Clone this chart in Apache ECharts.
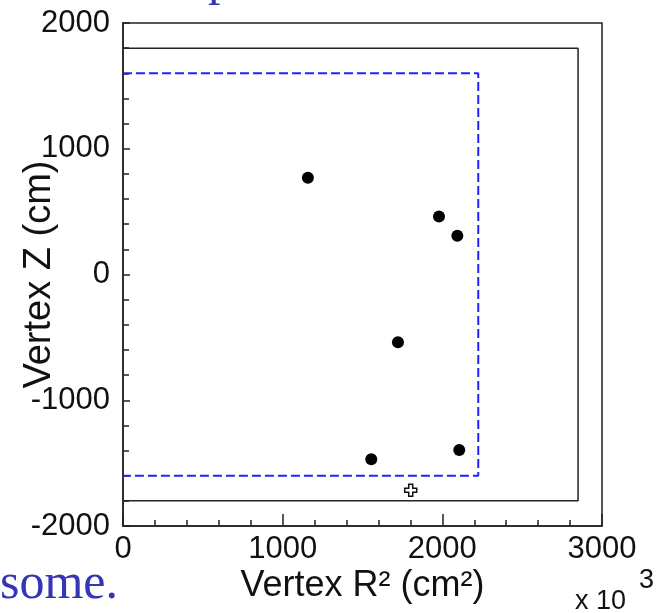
<!DOCTYPE html>
<html>
<head>
<meta charset="utf-8">
<script src="https://cdn.jsdelivr.net/npm/echarts@6/dist/echarts.min.js"></script>
<style>
html,body{margin:0;padding:0;background:#fff;}
#c{width:663px;height:613px;}
</style>
</head>
<body>
<div id="c"></div>
<script>
// Data (x in units of 10^3 cm^2, y in cm)
var xTicks = [0, 1000, 2000, 3000];
var yTicks = [-2000, -1000, 0, 1000, 2000];
var detectorR2 = [0, 2850, 2850, 0];
var detectorZ = [1800, 1800, -1800, -1800];
var fiducialR2 = [0, 2225, 2225, 0];
var fiducialZ = [1600, 1600, -1600, -1600];
var eventR2 = [1158, 1979, 2094, 1722, 1555, 2106];
var eventZ = [769, 461, 308, -538, -1469, -1395];
var otherR2 = [1802];
var otherZ = [-1716];

function zip(a, b) { return a.map(function (v, i) { return [v, b[i]]; }); }

var chart = echarts.init(document.getElementById('c'));
var font = 'Liberation Sans';
chart.setOption({
  animation: false,
  grid: { left: 123, top: 23, width: 479, height: 503, outerBoundsMode: 'none', containLabel: false,
          show: true, borderColor: '#222', borderWidth: 1.5, backgroundColor: 'transparent' },
  xAxis: {
    type: 'value', min: xTicks[0], max: xTicks[xTicks.length - 1], interval: 1000,
    axisLine: { show: true, onZero: false, lineStyle: { color: '#222', width: 1.5 } },
    axisTick: { show: true, inside: true, length: 12, lineStyle: { color: '#222', width: 1.5 } },
    minorTick: { show: true, splitNumber: 5, length: 6, lineStyle: { color: '#222', width: 1.5 } },
    splitLine: { show: false },
    axisLabel: { color: '#111', fontFamily: font, fontSize: 31, margin: 8, formatter: function (v) { return String(v); } },
    name: 'Vertex R\u00b2 (cm\u00b2)', nameLocation: 'middle', nameGap: 42, nameMoveOverlap: false,
    nameTextStyle: { color: '#111', fontFamily: font, fontSize: 36 }
  },
  yAxis: {
    type: 'value', min: yTicks[0], max: yTicks[yTicks.length - 1], interval: 1000,
    axisLine: { show: true, onZero: false, lineStyle: { color: '#222', width: 1.5 } },
    axisTick: { show: true, inside: true, length: 7, lineStyle: { color: '#222', width: 1.5 } },
    minorTick: { show: true, splitNumber: 5, length: 6, lineStyle: { color: '#222', width: 1.5 } },
    splitLine: { show: false },
    axisLabel: { color: '#111', fontFamily: font, fontSize: 31, margin: 13, formatter: function (v) { return String(v); } },
    name: 'Vertex Z (cm)', nameLocation: 'middle', nameGap: 64, nameRotate: 90, nameMoveOverlap: false,
    nameTextStyle: { color: '#111', fontFamily: font, fontSize: 38 }
  },
  series: [
    { type: 'line', data: zip(detectorR2, detectorZ), symbol: 'none', lineStyle: { color: '#222', width: 1.5 }, z: 2 },
    { type: 'line', data: zip(fiducialR2, fiducialZ), symbol: 'none', lineStyle: { color: '#2222ff', width: 2, type: [9, 4] }, z: 3 },
    { type: 'scatter', data: zip(eventR2, eventZ), symbol: 'circle', symbolSize: 12, itemStyle: { color: '#000', opacity: 1 }, z: 4 },
    { type: 'scatter', data: zip(otherR2, otherZ), symbol: 'path://M4,0H8V4H12V8H8V12H4V8H0V4H4Z', symbolSize: 12,
      itemStyle: { color: '#fff', borderColor: '#111', borderWidth: 1.5, opacity: 1 }, z: 4 }
  ],
  graphic: [
    { type: 'text', left: 575, top: 588, style: { text: 'x 10', fontFamily: font, fontSize: 27, fill: '#111' } },
    { type: 'text', left: 639, top: 567, style: { text: '3', fontFamily: font, fontSize: 27, fill: '#111' } },
    { type: 'text', left: 0, top: 560, style: { text: 'some.', fontFamily: 'Liberation Serif', fontSize: 50, fill: '#3535b5' } },
    { type: 'text', left: 208, top: -44, style: { text: 'p', fontFamily: 'Liberation Serif', fontSize: 50, fill: '#3535b5' } }
  ]
});
</script>
</body>
</html>
